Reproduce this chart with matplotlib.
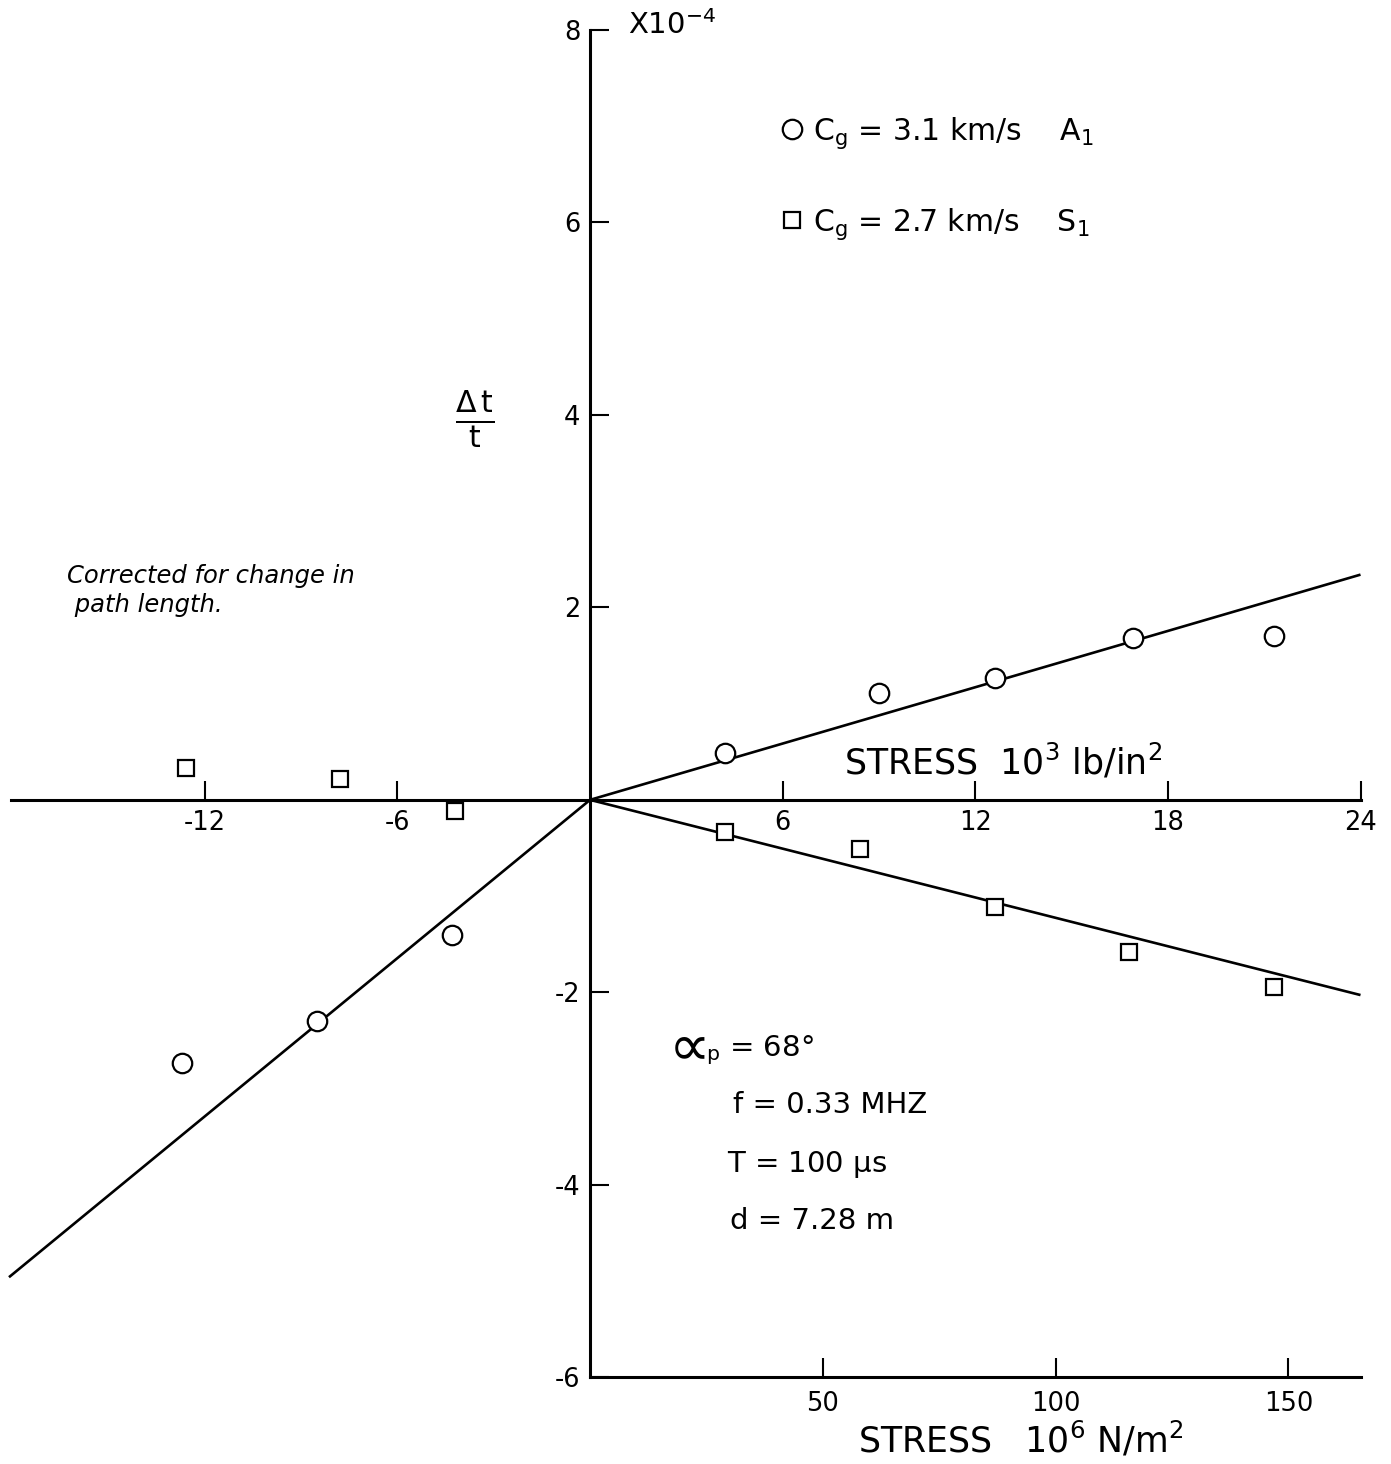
import numpy as np
import matplotlib.pyplot as plt

# stress in 10^3 lb/in^2, fractional change in transit time in units of 1e-4
a1_stress = [4.2, 9.0, 12.6, 16.9, 21.3, -4.3, -8.5, -12.7]
a1_dtt = [0.49, 1.11, 1.27, 1.68, 1.70, -1.40, -2.30, -2.73]
s1_stress = [-12.6, -7.8, -4.2, 4.2, 8.4, 12.6, 16.8, 21.3]
s1_dtt = [0.33, 0.22, -0.12, -0.33, -0.51, -1.11, -1.58, -1.94]

# straight lines through the origin: slope, start, end (10^3 lb/in^2)
fit_lines = [(0.0975, 0.0, 24.0),
             (-0.0845, 0.0, 24.0),
             (0.274, -18.1, 0.0)]

ksi_ticks = [-12, -6, 6, 12, 18, 24]
dtt_ticks = [-6, -4, -2, 2, 4, 6, 8]
mpa_ticks = [50, 100, 150]
KSI_TO_MPA = 6.895

plt.rcParams['font.family'] = 'DejaVu Sans'
plt.rcParams['mathtext.fontset'] = 'dejavusans'
plt.rcParams['axes.unicode_minus'] = False

xlo, xhi = -18.38, 24.95
ylo, yhi = -6.90, 8.31

fig = plt.figure(figsize=(13.91, 14.64), dpi=100)
ax = fig.add_axes([0, 0, 1, 1])
ax.set_xlim(xlo, xhi)
ax.set_ylim(ylo, yhi)

# axes crossing at the origin
for side in ['top', 'right']:
    ax.spines[side].set_visible(False)
ax.spines['left'].set_position(('data', 0))
ax.spines['bottom'].set_position(('data', 0))
ax.spines['left'].set_bounds(-6, 8)
ax.spines['bottom'].set_bounds(-18.05, 24)
ax.spines['left'].set_linewidth(2.2)
ax.spines['bottom'].set_linewidth(2.2)
ax.set_xticks(ksi_ticks)
ax.set_yticks(dtt_ticks)
ax.tick_params(direction='in', length=14, width=1.5, labelsize=18.5, pad=7)

# metric stress scale along the bottom
loc = (-6 - ylo) / (yhi - ylo)
sec = ax.secondary_xaxis(loc, functions=(lambda k: k * KSI_TO_MPA,
                                          lambda m: m / KSI_TO_MPA))
sec.set_xticks(mpa_ticks)
sec.spines['bottom'].set_bounds(0, 24 * KSI_TO_MPA)
sec.spines['bottom'].set_linewidth(2.2)
sec.tick_params(direction='in', length=14, width=1.5, labelsize=18.5, pad=10)

for slope, x0, x1 in fit_lines:
    xs = np.array([x0, x1])
    ax.plot(xs, slope * xs, color='black', lw=1.9, solid_capstyle='butt')

ax.plot(a1_stress, a1_dtt, 'o', ms=14, mfc='white', mec='black', mew=1.6,
        label=r'C$_\mathregular{g}$ = 3.1 km/s    A$_\mathregular{1}$', zorder=3)
ax.plot(s1_stress, s1_dtt, 's', ms=12, mfc='white', mec='black', mew=1.6,
        label=r'C$_\mathregular{g}$ = 2.7 km/s    S$_\mathregular{1}$', zorder=3)

ax.legend(loc='upper left', bbox_to_anchor=(762 / 1391, 1 - 100 / 1464),
          bbox_transform=fig.transFigure, frameon=False, fontsize=21.5,
          handlelength=1.0, handletextpad=0.2, labelspacing=1.85, borderpad=0)

ax.text(1.18, 8.05, r'X10$^{-4}$', fontsize=21, va='center', ha='left')
ax.text(-3.58, 3.95, r'$\frac{\Delta\,\mathrm{t}}{\mathrm{t}}$', fontsize=31,
        ha='center', va='center')
ax.text(-16.3, 2.45, 'Corrected for change in\n path length.', fontsize=17.5,
        style='italic', ha='left', va='top', linespacing=1.25)
ax.text(7.9, 0.39, r'STRESS  10$^3$ lb/in$^2$', fontsize=25,
        ha='left', va='center')
ax.text(8.35, -6.65, r'STRESS   10$^6$ N/m$^2$', fontsize=25,
        ha='left', va='center')

ax.text(2.45, -2.57, '∝', fontsize=42, va='center', ha='left')
ax.text(3.62, -2.60, r'$_\mathregular{p}$ = 68°', fontsize=21, va='center')
ax.text(4.45, -3.17, 'f = 0.33 MHZ', fontsize=21, va='center')
ax.text(4.27, -3.79, r'T = 100 $\mathregular{\mu}$s', fontsize=21, va='center')
ax.text(4.36, -4.38, 'd = 7.28 m', fontsize=21, va='center')

fig.savefig('out.png', dpi=100)
